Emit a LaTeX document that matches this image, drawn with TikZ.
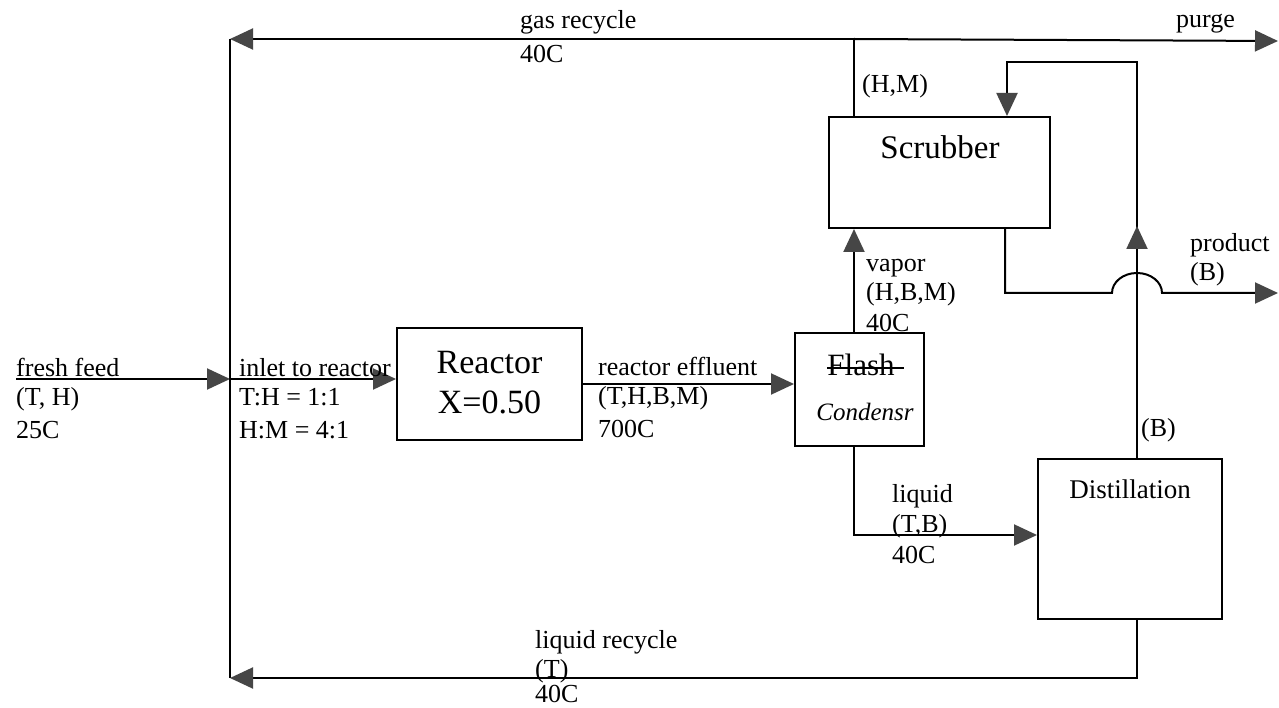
\documentclass[tikz,border=0pt]{standalone}
\usepackage{fontspec}
\setmainfont{Liberation Serif}
\usetikzlibrary{arrows.meta}
\definecolor{tipgray}{HTML}{464646}
\begin{document}
\begin{tikzpicture}[x=1pt,y=-1pt,
  line/.style={line width=2pt, black},
  flow/.style={line, -{Triangle[length=23pt,width=21pt,color=tipgray]}},
  box/.style={draw, line width=2pt, inner sep=0pt},
  lab/.style={font=\fontsize{26}{30}\selectfont, anchor=base west, inner sep=0pt},
  big/.style={font=\fontsize{34}{40}\selectfont, anchor=base, inner sep=0pt},
]
\useasboundingbox[fill=white] (0,0) rectangle (1279,708);

% units
\node[box, minimum width=185pt, minimum height=112pt] (reactor) at (489.5,384) {};
\node[big] (reactorT) at (489.5,373) {Reactor};
\node[big] (xT) at (489.5,413) {X=0.50};

\node[box, minimum width=129pt, minimum height=113pt] (flash) at (859.5,389.5) {};
\node[font=\fontsize{31}{36}\selectfont, anchor=base, inner sep=0pt] (flashT) at (861,375) {Flash};
\draw[line width=1.3pt] (827,368) -- (904,368);
\node[font=\itshape\fontsize{25}{30}\selectfont, anchor=base, inner sep=0pt] (condT) at (865,420) {Condensr};

\node[box, minimum width=221pt, minimum height=111pt] (scrub) at (939.5,172.5) {};
\node[font=\fontsize{33}{38}\selectfont, anchor=base, inner sep=0pt] (scrubT) at (940,159) {Scrubber};

\node[box, minimum width=184pt, minimum height=160pt] (dist) at (1130,539) {};
\node[font=\fontsize{27}{32}\selectfont, anchor=base, inner sep=0pt] (distT) at (1130,498) {Distillation};

% coordinates
\coordinate (vx) at (854,300);
\coordinate (ffstart) at (16,379);
\coordinate (mix) at (230,379);
\coordinate (junc) at (854,39);
\coordinate (topleft) at (230,39);
\coordinate (purgeend) at (1278,41);
\coordinate (botleft) at (230,678);
\coordinate (rx) at (1137,400);
\coordinate (liqcorner) at (854,535);
\coordinate (rtop) at (1137,62);
\coordinate (rleft) at (1007,62);
\coordinate (upbase) at (1137,250);
\coordinate (upmid) at (1137,226);
\coordinate (pdown) at (1005,293);
\coordinate (bumpL) at (1112,293);
\coordinate (prodend) at (1278,293);

% connectors
\draw[flow] (ffstart) -- (mix);
\draw[flow] (mix) -- (reactor.west |- mix);
\draw[flow] (reactor.east) -- (flash.west |- reactor.east);
\draw[flow] (flash.north -| vx) -- (scrub.south -| vx);
\draw[line] (scrub.north -| vx) -- (junc);
\draw[flow] (junc) -- (topleft);
\draw[flow] (junc) -- (purgeend);
\draw[line] (topleft) -- (botleft);
\draw[flow] (dist.south -| rx) -- (rx |- botleft) -- (botleft);
\draw[flow] (flash.south -| vx) -- (liqcorner) -- (dist.west |- liqcorner);
\draw[flow] (dist.north -| rtop) -- (rtop) -- (rleft) -- (scrub.north -| rleft);
\draw[flow] (upbase) -- (upmid);
\draw[flow] (scrub.south -| pdown) -- (pdown) -- (bumpL)
  arc[start angle=180, end angle=360, x radius=25, y radius=20] -- (prodend);

% labels
\node[lab] (l1) at (520,29) {gas recycle};
\node[lab] (l2) at (520,63) {40C};
\node[lab] (l3) at (1176,28) {purge};
\node[lab] (l4) at (862,93) {(H,M)};
\node[lab] (l5) at (866,272) {vapor};
\node[lab] (l6) at (866,301) {(H,B,M)};
\node[lab] (l7) at (866,331) {40C};
\node[lab] (l8) at (1190,252) {product};
\node[lab] (l9) at (1190,281) {(B)};
\node[lab] (l10) at (16,376) {fresh feed};
\node[lab] (l11) at (16,405) {(T, H)};
\node[lab] (l12) at (16,438) {25C};
\node[lab] (l13) at (239,376) {inlet to reactor};
\node[lab] (l14) at (239,405) {T:H = 1:1};
\node[lab] (l15) at (239,438) {H:M = 4:1};
\node[lab] (l16) at (598,375) {reactor effluent};
\node[lab] (l17) at (598,404) {(T,H,B,M)};
\node[lab] (l18) at (598,437) {700C};
\node[lab] (l19) at (1141,436) {(B)};
\node[lab] (l20) at (892,502) {liquid};
\node[lab] (l21) at (892,532) {(T,B)};
\node[lab] (l22) at (892,563) {40C};
\node[lab] (l23) at (535,648) {liquid recycle};
\node[lab] (l24) at (535,677) {(T)};
\node[lab] (l25) at (535,702) {40C};
\end{tikzpicture}
\end{document}
